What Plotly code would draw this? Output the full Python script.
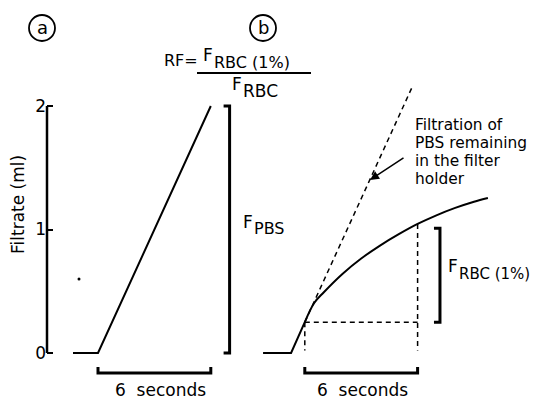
import plotly.graph_objects as go

# ---------------- data (seconds, ml) ----------------
pbs_time = [-1.33, 0.0, 6.0]
pbs_volume = [0.0, 0.0, 2.0]

rbc_rise_time = [8.78, 10.27, 11.0]
rbc_rise_volume = [0.0, 0.0, 0.25]
rbc_curve_time = [11.0, 11.5, 12.0, 13.0, 14.0, 15.0, 16.0, 17.0, 18.0, 19.0, 20.0, 20.74]
rbc_curve_volume = [0.25, 0.405, 0.49, 0.64, 0.765, 0.87, 0.962, 1.045, 1.115, 1.175, 1.225, 1.255]

pbs_ext_time = [11.0, 16.7]
pbs_ext_volume = [0.25, 2.15]

window_start, window_end = 11.0, 17.0
window_start_vol, window_end_vol = 0.25, 1.045
guide_floor = 0.02

fpbs_bracket_t, fpbs_range = 7.0, [0.0, 2.0]
frbc_bracket_t, frbc_range = 18.19, [0.25, 1.01]
sec_brackets = [[0.0, 6.0], [11.0, 17.0]]
sec_bracket_v, sec_tick_v = -0.162, -0.113

stray_dot_t, stray_dot_v = [-1.01], [0.60]

y_ticks = [0, 1, 2]
y_ticklabels = ["0", "1", "2"]

note_lines = ["Filtration of", "PBS remaining", "in the filter", "holder"]

# ---------------- layout geometry ----------------
W, H = 539, 399
ML = 47
X0_PX, PX_PER_S = 98.0, 18.8
Y0_PX, PX_PER_ML = 353.0, 123.5
xrange_ = [(ML - X0_PX) / PX_PER_S, (W - X0_PX) / PX_PER_S]
yrange_ = [(Y0_PX - H) / PX_PER_ML, Y0_PX / PX_PER_ML]


def xp(px):
    return (px - ML) / (W - ML)


def yp(py):
    return (H - py) / H


FONT = "DejaVu Sans"
BLACK = "#000"

fig = go.Figure()

solid = dict(color=BLACK, width=2)
fig.add_trace(go.Scatter(x=pbs_time, y=pbs_volume, mode="lines", line=solid))
fig.add_trace(go.Scatter(x=rbc_rise_time, y=rbc_rise_volume, mode="lines", line=solid))
fig.add_trace(go.Scatter(x=rbc_curve_time, y=rbc_curve_volume, mode="lines",
                         line=dict(color=BLACK, width=2, shape="spline", smoothing=1.0)))
dash = dict(color=BLACK, width=1.5, dash="5px,4px")
fig.add_trace(go.Scatter(x=pbs_ext_time, y=pbs_ext_volume, mode="lines", line=dash))
fig.add_trace(go.Scatter(x=[window_start, window_end], y=[window_start_vol, window_start_vol],
                         mode="lines", line=dash))
fig.add_trace(go.Scatter(x=[window_start, window_start], y=[window_start_vol, guide_floor],
                         mode="lines", line=dash))
fig.add_trace(go.Scatter(x=[window_end, window_end], y=[window_end_vol, guide_floor],
                         mode="lines", line=dash))

bracket = dict(color=BLACK, width=3)
tick_s = 6 / PX_PER_S
fig.add_trace(go.Scatter(x=[fpbs_bracket_t - tick_s, fpbs_bracket_t, fpbs_bracket_t, fpbs_bracket_t - tick_s],
                         y=[fpbs_range[1], fpbs_range[1], fpbs_range[0], fpbs_range[0]],
                         mode="lines", line=bracket))
fig.add_trace(go.Scatter(x=[frbc_bracket_t - tick_s, frbc_bracket_t, frbc_bracket_t, frbc_bracket_t - tick_s],
                         y=[frbc_range[1], frbc_range[1], frbc_range[0], frbc_range[0]],
                         mode="lines", line=bracket))
for a, b in sec_brackets:
    fig.add_trace(go.Scatter(x=[a, a, b, b], y=[sec_tick_v, sec_bracket_v, sec_bracket_v, sec_tick_v],
                             mode="lines", line=bracket))
fig.add_trace(go.Scatter(x=stray_dot_t, y=stray_dot_v, mode="markers",
                         marker=dict(color=BLACK, size=3)))

shapes = [
    dict(type="line", xref="paper", yref="y", x0=0, x1=0, y0=0, y1=2,
         line=dict(color=BLACK, width=2.5)),
    dict(type="circle", xref="paper", yref="paper", x0=xp(29), x1=xp(55), y0=yp(41), y1=yp(15),
         line=dict(color=BLACK, width=1.8)),
    dict(type="circle", xref="paper", yref="paper", x0=xp(250), x1=xp(276), y0=yp(41), y1=yp(15),
         line=dict(color=BLACK, width=1.8)),
    dict(type="line", xref="paper", yref="paper", x0=xp(197), x1=xp(311), y0=yp(73), y1=yp(73),
         line=dict(color=BLACK, width=1.8)),
]


def ann(text, px, py, size=17, xanchor="center", **kw):
    d = dict(text=text, xref="paper", yref="paper", x=xp(px), y=yp(py), showarrow=False,
             xanchor=xanchor, yanchor="middle", borderpad=0,
             font=dict(family=FONT, size=size, color=BLACK))
    d.update(kw)
    return d


def fsub(px_left, py, sub, size_main=17, size_sub=16, dy=7):
    f_w = 0.575 * size_main + 0.8
    return [ann("F", px_left, py, size=size_main, xanchor="left"),
            ann(sub, px_left + f_w, py + dy, size=size_sub, xanchor="left")]


annotations = [
    ann("a", 42, 27, size=18),
    ann("b", 263, 27, size=18),
    ann("RF=", 199, 60, size=16, xanchor="right"),
    ann("Filtrate (ml)", 18, 205, size=17, textangle=-90),
    ann("6  seconds", 160, 390, size=17),
    ann("6  seconds", 362, 390, size=17),
    dict(text="", xref="paper", yref="paper", axref="pixel", ayref="pixel",
         x=xp(370), y=yp(180), ax=35, ay=-23, showarrow=True,
         arrowhead=2, arrowsize=1.2, arrowwidth=1.5, arrowcolor=BLACK),
]
for i, line in enumerate(note_lines):
    annotations.append(ann(line, 414, 125 + 18 * i, size=15.4, xanchor="left"))
annotations += fsub(202, 55, "RBC (1%)", size_sub=16, dy=7)
annotations += fsub(231, 84, "RBC", size_sub=17, dy=7)
annotations += fsub(242, 222, "PBS", size_sub=16, dy=6)
annotations += fsub(447, 266, "RBC (1%)", size_sub=15, dy=8)

fig.update_layout(
    width=W, height=H,
    margin=dict(l=ML, r=0, t=0, b=0, pad=0),
    paper_bgcolor="white", plot_bgcolor="white",
    showlegend=False,
    font=dict(family=FONT, color=BLACK),
    xaxis=dict(range=xrange_, visible=False, fixedrange=True),
    yaxis=dict(range=yrange_, tickvals=y_ticks, ticktext=y_ticklabels, ticks="inside",
               ticklen=6, tickwidth=2, tickcolor=BLACK, showline=False, showgrid=False,
               zeroline=False, tickfont=dict(family=FONT, size=17, color=BLACK), fixedrange=True),
    shapes=shapes,
    annotations=annotations,
)

fig.write_html("out.html", config={"displayModeBar": False},
               post_script="document.body.style.margin='0';document.body.style.overflow='hidden';")
